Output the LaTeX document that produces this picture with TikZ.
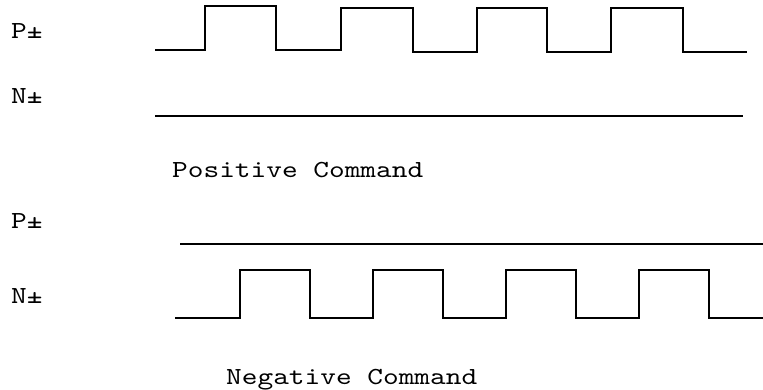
\documentclass[tikz,border=0pt]{standalone}
\usepackage{fontspec}
\setmonofont[FakeStretch=1.22]{lmmono10-regular.otf}
\begin{document}
\begin{tikzpicture}[x=1pt,y=-1pt,
  wave/.style={draw=black,line width=1.8pt,line join=miter},
  lbl/.style={anchor=base west,inner sep=0pt,font=\fontsize{24.5}{30}\ttfamily}]
\useasboundingbox (0,0) rectangle (763,389);
% labels
\node[lbl] (p1) at (11,38) {P±};
\node[lbl] (n1) at (11,103) {N±};
\node[lbl] (pc) at (172,177) {Positive Command};
\node[lbl] (p2) at (11,228) {P±};
\node[lbl] (n2) at (11,303) {N±};
\node[lbl] (nc) at (226,384) {Negative Command};
% positive command waveforms
\draw[wave] (155,50) -- (205,50) -- (205,6) -- (276,6) -- (276,50) -- (341,50)
  -- (341,8) -- (413,8) -- (413,52) -- (477,52) -- (477,8) -- (547,8) -- (547,52)
  -- (611,52) -- (611,8) -- (683,8) -- (683,52) -- (747,52);
\draw[wave] (155,116) -- (743,116);
% negative command waveforms
\draw[wave] (180,244) -- (763,244);
\draw[wave] (175,318) -- (240,318) -- (240,270) -- (310,270) -- (310,318) -- (373,318)
  -- (373,270) -- (443,270) -- (443,318) -- (506,318) -- (506,270) -- (576,270)
  -- (576,318) -- (639,318) -- (639,270) -- (709,270) -- (709,318) -- (763,318);
\end{tikzpicture}
\end{document}
